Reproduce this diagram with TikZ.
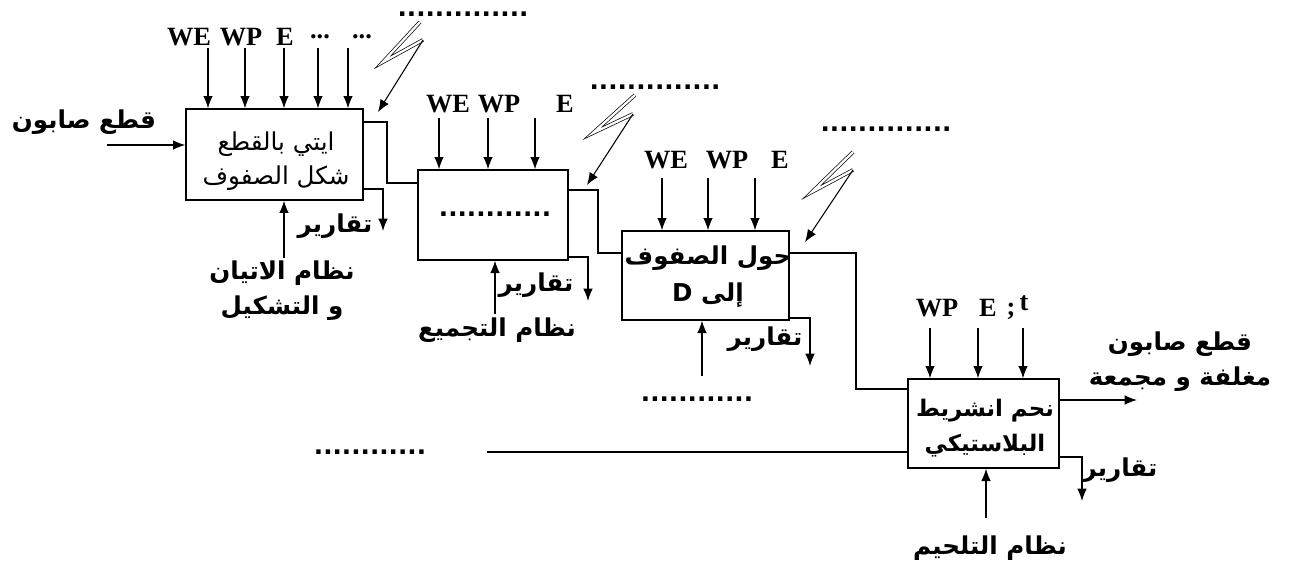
\documentclass[tikz,border=0pt]{standalone}
\usepackage{fontspec}
\usetikzlibrary{arrows.meta}
\newfontfamily\arfont[Script=Arabic]{DejaVu Sans}
\newfontfamily\latfont{Liberation Serif}
\TeXXeTstate=1
\newcommand\AR[1]{\beginR #1\endR}
\tikzset{
  blk/.style={draw, line width=0.8pt, inner sep=0pt},
  arr/.style={-{Latex[length=7pt,width=5.5pt]}, line width=0.75pt},
  ln/.style={line width=0.75pt},
  thk/.style={line width=1.2pt},
  wlbl/.style={font=\latfont\bfseries\fontsize{15}{17}\selectfont, inner sep=0pt},
  artxt/.style={font=\arfont\bfseries\fontsize{14}{20}\selectfont, align=center, inner sep=0pt},
  arthin/.style={font=\arfont\fontsize{14}{19}\selectfont, align=center, inner sep=0pt},
  dotrow/.style={font=\arfont\bfseries\fontsize{14}{16}\selectfont, inner sep=0pt, anchor=base, text height=4pt, text depth=0pt},
  bolt/.style={line width=0.4pt, double, double distance=1.3pt},
}
\begin{document}
\begin{tikzpicture}[x=0.02cm,y=-0.02cm]
\useasboundingbox (0,0) rectangle (1292,569);
% ---------- boxes ----------
\node[blk, minimum width=3.54cm, minimum height=1.82cm] (b1) at (274.5,154.5) {};
\node[arthin] (t1) at (276,161) {\AR{ايتي بالقطع}\\\AR{شكل الصفوف}};
\node[blk, minimum width=3.0cm, minimum height=1.8cm] (b2) at (493,215) {};
\node[dotrow] (t2) at (495,216) {............};
\node[blk, minimum width=3.34cm, minimum height=1.78cm] (b3) at (705.5,275.5) {};
\node[artxt, font=\arfont\bfseries\fontsize{14}{21}\selectfont] (t3) at (708,277) {\AR{حول الصفوف}\\\AR{إلى \beginL D\endL}};
\node[blk, minimum width=3.02cm, minimum height=1.78cm] (b4) at (983.5,423.5) {};
\node[artxt, font=\arfont\bfseries\fontsize{13}{20}\selectfont] (t4) at (985,428) {\AR{نحم انشريط}\\\AR{البلاستيكي}};
% ---------- box 1 ----------
\node[wlbl] (w11) at (189,37) {WE};
\node[wlbl] (w12) at (241,37) {WP};
\node[wlbl] (w13) at (285,37) {E};
\node[wlbl] (w14) at (320,37) {...};
\node[wlbl] (w15) at (362,37) {...};
\foreach \i/\x in {1/208,2/245,3/284,4/318,5/348}{
  \coordinate (a1\i) at (\x,48);
  \draw[arr] (a1\i) -- (a1\i |- b1.north);
}
\node[artxt] (in1) at (84,122) {\AR{قطع صابون}};
\coordinate (i1) at (107,145);
\draw[arr] (i1) -- (i1 -| b1.west);
\coordinate (e1) at (387,122);
\coordinate (e2) at (387,183);
\draw[ln] (b1.east |- e1) -- (e1) -- (e2) -- (b2.west |- e2);
\coordinate (r1) at (383,189);
\coordinate (r1e) at (383,231);
\draw[arr] (b1.east |- r1) -- (r1) -- (r1e);
\node[artxt] (rp1) at (335,226) {\AR{تقارير}};
\coordinate (c1) at (284,258);
\draw[arr] (c1) -- (c1 |- b1.south);
\node[artxt] (ct1) at (282,291) {\AR{نظام الاتيان}\\\AR{و التشكيل}};
\node[dotrow] (d1) at (463,16) {..............};
\coordinate (k1a) at (420,22);
\coordinate (k1b) at (383,62);
\coordinate (k1c) at (423,40);
\coordinate (k1d) at (378,112);
\draw[bolt] (k1a) -- (k1b) -- (k1c);
\draw[arr, line width=0.6pt] (k1c) -- (k1d);
% ---------- box 2 ----------
\node[wlbl] (w21) at (448,104) {WE};
\node[wlbl] (w22) at (499,104) {WP};
\node[wlbl] (w23) at (565,104) {E};
\foreach \i/\x in {1/439,2/488,3/535}{
  \coordinate (a2\i) at (\x,118);
  \draw[arr] (a2\i) -- (a2\i |- b2.north);
}
\coordinate (e3) at (598,190);
\coordinate (e4) at (598,253);
\draw[ln] (b2.east |- e3) -- (e3) -- (e4) -- (b3.west |- e4);
\coordinate (r2) at (588,257);
\coordinate (r2e) at (588,301);
\draw[arr] (b2.east |- r2) -- (r2) -- (r2e);
\node[artxt] (rp2) at (536,285) {\AR{تقارير}};
\coordinate (c2) at (495,314);
\draw[arr] (c2) -- (c2 |- b2.south);
\node[artxt] (ct2) at (497,330) {\AR{نظام التجميع}};
\node[dotrow] (d2) at (655,89) {..............};
\coordinate (k2a) at (635,95);
\coordinate (k2b) at (593,133);
\coordinate (k2c) at (633,114);
\coordinate (k2d) at (587,185);
\draw[bolt] (k2a) -- (k2b) -- (k2c);
\draw[arr, line width=0.6pt] (k2c) -- (k2d);
% ---------- box 3 ----------
\node[wlbl] (w31) at (666,160) {WE};
\node[wlbl] (w32) at (727,160) {WP};
\node[wlbl] (w33) at (780,160) {E};
\foreach \i/\x in {1/662,2/708,3/755}{
  \coordinate (a3\i) at (\x,178);
  \draw[arr] (a3\i) -- (a3\i |- b3.north);
}
\coordinate (e5) at (856,253);
\coordinate (e6) at (856,389);
\draw[thk] (b3.east |- e5) -- (e5) -- (e6) -- (b4.west |- e6);
\coordinate (r3) at (810,318);
\coordinate (r3e) at (810,366);
\draw[arr] (b3.east |- r3) -- (r3) -- (r3e);
\node[artxt] (rp3) at (765,339) {\AR{تقارير}};
\coordinate (c3) at (702,376);
\draw[arr] (c3) -- (c3 |- b3.south);
\node[dotrow] (d3) at (697,401) {............};
\node[dotrow] (d4) at (886,131) {..............};
\coordinate (k3a) at (853,152);
\coordinate (k3b) at (812,192);
\coordinate (k3c) at (853,170);
\coordinate (k3d) at (805,242);
\draw[bolt] (k3a) -- (k3b) -- (k3c);
\draw[arr, line width=0.6pt] (k3c) -- (k3d);
% ---------- box 4 ----------
\node[wlbl] (w41) at (937,308) {WP};
\node[wlbl] (w42) at (988,308) {E};
\node[wlbl] (w43) at (1011,311) {;};
\node[wlbl] (w44) at (1024,303) {t};
\foreach \i/\x in {1/930,2/978,3/1023}{
  \coordinate (a4\i) at (\x,328);
  \draw[arr] (a4\i) -- (a4\i |- b4.north);
}
\node[dotrow] (d5) at (370,454) {............};
\coordinate (l4) at (487,452);
\draw[thk] (l4) -- (l4 -| b4.west);
\coordinate (o4) at (1137,400);
\draw[arr] (b4.east |- o4) -- (o4);
\node[artxt] (out4) at (1180,362) {\AR{قطع صابون}\\\AR{مغلفة و مجمعة}};
\coordinate (r4) at (1082,457);
\coordinate (r4e) at (1082,501);
\draw[arr] (b4.east |- r4) -- (r4) -- (r4e);
\node[artxt] (rp4) at (1120,470) {\AR{تقارير}};
\coordinate (c4) at (986,518);
\draw[arr] (c4) -- (c4 |- b4.south);
\node[artxt] (ct4) at (990,548) {\AR{نظام التلحيم}};
\end{tikzpicture}
\end{document}
